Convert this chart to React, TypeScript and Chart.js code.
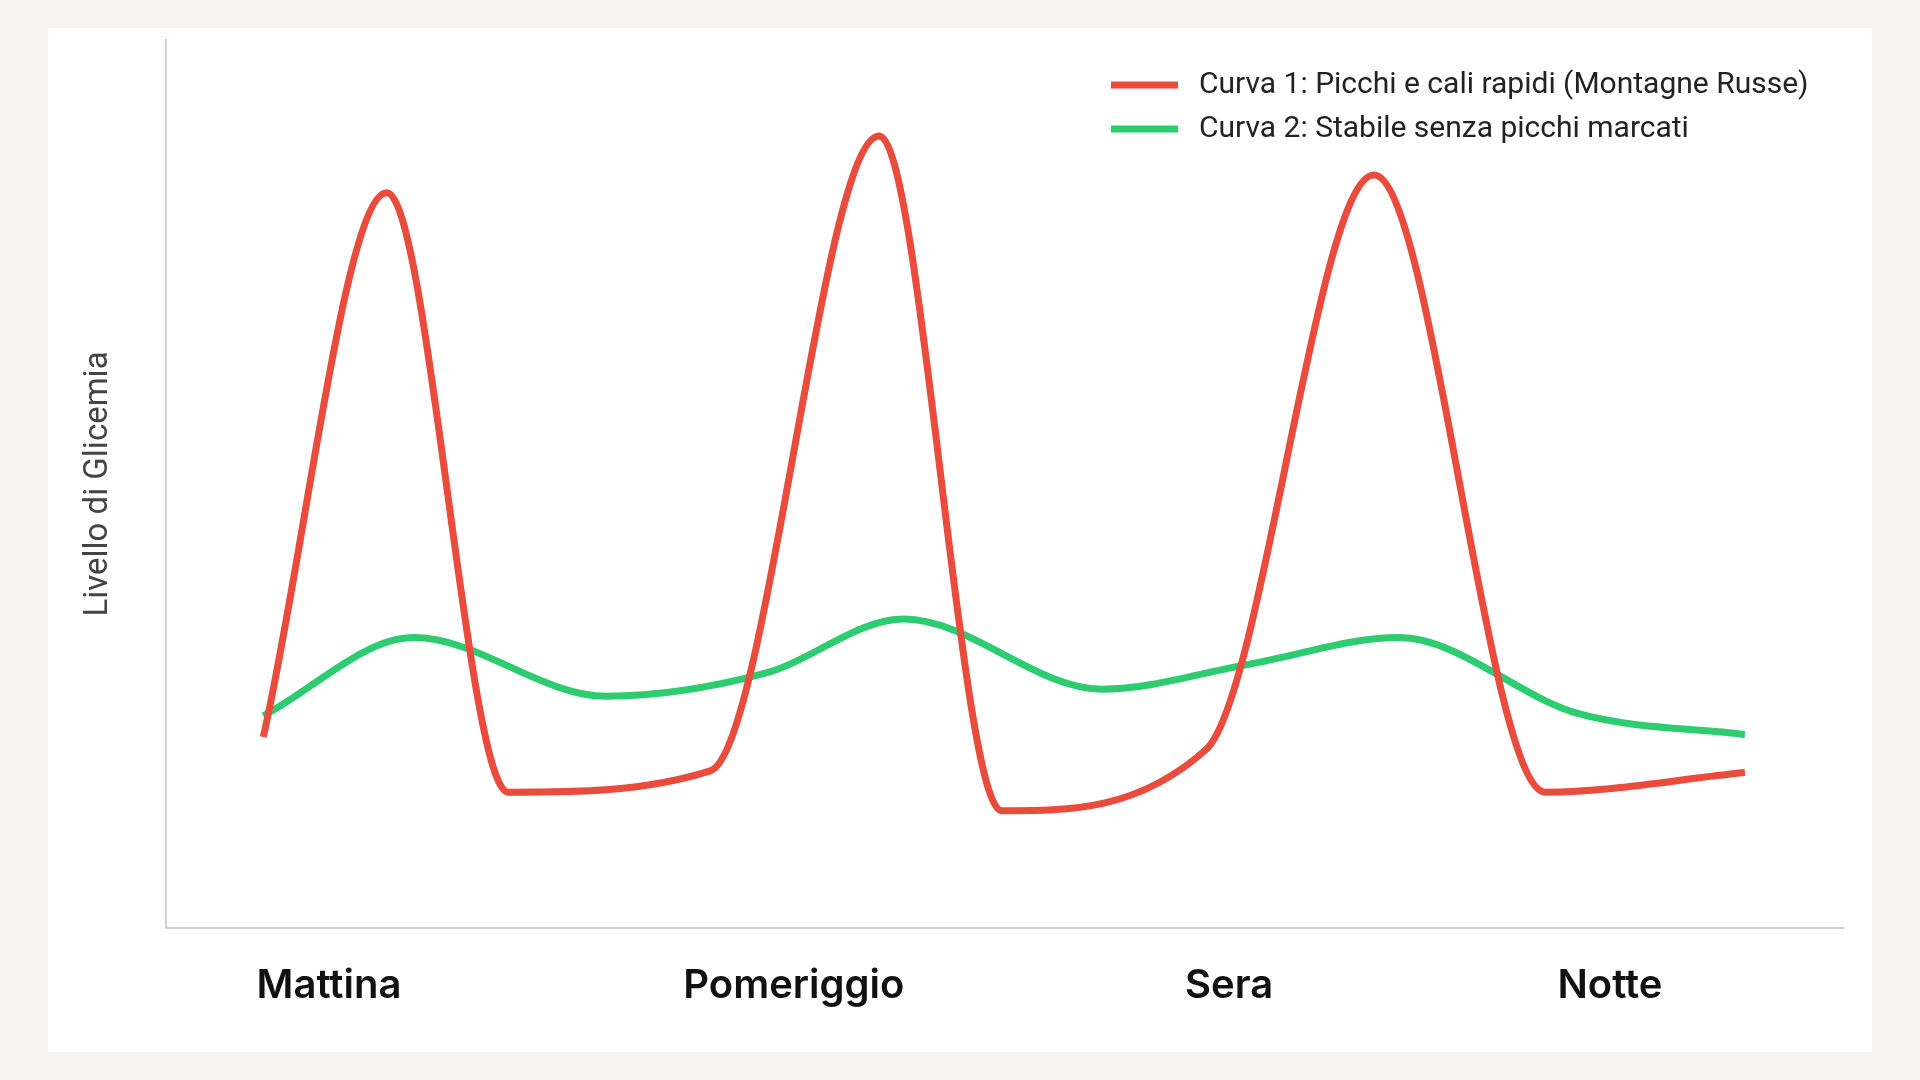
import React, { useEffect, useRef } from "react";
import { Chart, registerables } from "chart.js";

Chart.register(...registerables);

const seriesNames = [
  "Curva 1: Picchi e cali rapidi (Montagne Russe)",
  "Curva 2: Stabile senza picchi marcati",
];
const seriesColors = ["#e94b3c", "#2ecc71"];
const curva1X = [5.8, 13.17, 20.4, 32.45, 42.53, 49.83, 62.02, 72.03, 82.25, 94.15];
const curva1Y = [21.5, 82.8, 15.3, 17.7, 89.2, 13.2, 20.1, 84.8, 15.3, 17.5];
const curva2X = [5.8, 14.78, 26.24, 35.74, 43.99, 55.82, 64.58, 73.49, 84.29, 94.15];
const curva2Y = [23.9, 32.7, 26.1, 28.7, 34.8, 26.9, 29.7, 32.7, 24.1, 21.8];
const tickValues = [9.72, 37.44, 63.39, 86.1];
const tickLabels = ["Mattina", "Pomeriggio", "Sera", "Notte"];
const yTitle = "Livello di Glicemia";

const legendPlugin = {
  id: "stackedLegend",
  afterDraw(chart: any) {
    const { ctx, chartArea } = chart;
    const x0 = chartArea.right - 732;
    const y0 = chartArea.top + 45;
    ctx.save();
    chart.data.datasets.forEach((ds: any, i: number) => {
      const y = y0 + i * 44;
      ctx.fillStyle = ds.borderColor;
      ctx.fillRect(x0, y - 3.5, 67, 7);
      ctx.fillStyle = "#222222";
      ctx.font = "30px Roboto";
      ctx.textBaseline = "middle";
      ctx.textAlign = "left";
      ctx.fillText(ds.label, x0 + 88, y);
    });
    ctx.restore();
  },
};

export default function App() {
  const canvasRef = useRef<HTMLCanvasElement | null>(null);

  useEffect(() => {
    if (!canvasRef.current) return;
    const chart = new Chart(canvasRef.current, {
      type: "line",
      data: {
        datasets: [
          {
            label: seriesNames[0],
            data: curva1X.map((x, i) => ({ x, y: curva1Y[i] })),
            borderColor: seriesColors[0],
            backgroundColor: seriesColors[0],
            borderWidth: 7,
            pointRadius: 0,
            cubicInterpolationMode: "monotone",
            fill: false,
          },
          {
            label: seriesNames[1],
            data: curva2X.map((x, i) => ({ x, y: curva2Y[i] })),
            borderColor: seriesColors[1],
            backgroundColor: seriesColors[1],
            borderWidth: 7,
            pointRadius: 0,
            cubicInterpolationMode: "monotone",
            fill: false,
          },
        ],
      },
      options: {
        animation: false,
        responsive: false,
        maintainAspectRatio: false,
        layout: { padding: { top: 12, right: 29, left: 0, bottom: 0 } },
        plugins: {
          legend: { display: false },
          tooltip: { enabled: false },
          title: { display: false },
        },
        scales: {
          x: {
            type: "linear",
            min: 0,
            max: 100,
            grid: { display: false, drawTicks: false },
            border: { display: true, color: "#cfd2d4", width: 2 },
            afterBuildTicks: (scale: any) => {
              scale.ticks = tickValues.map((v) => ({ value: v }));
            },
            afterFit: (scale: any) => {
              scale.height = 124;
            },
            ticks: {
              autoSkip: false,
              maxRotation: 0,
              padding: 34,
              color: "#111111",
              font: { family: "Inter", size: 40, weight: "600" },
              callback: (_v: any, index: number) => tickLabels[index],
            },
          },
          y: {
            type: "linear",
            min: 0,
            max: 100,
            grid: { display: false, drawTicks: false },
            border: { display: true, color: "#cfd2d4", width: 2 },
            ticks: { display: false },
            afterFit: (scale: any) => {
              scale.width = 118;
            },
            title: {
              display: true,
              text: yTitle,
              color: "#444444",
              font: { family: "Roboto", size: 33, weight: "400" },
              padding: { top: 31, bottom: 0 },
            },
          },
        },
      },
      plugins: [legendPlugin],
    } as any);
    return () => chart.destroy();
  }, []);

  return (
    <div
      style={{
        position: "fixed",
        left: 0,
        top: 0,
        width: 1920,
        height: 1080,
        background: "#f8f4f3",
      }}
    >
      <div
        style={{
          position: "absolute",
          left: 48,
          top: 28,
          width: 1824,
          height: 1024,
          background: "#ffffff",
        }}
      >
        <canvas ref={canvasRef} width={1824} height={1024} style={{ display: "block" }} />
      </div>
    </div>
  );
}
